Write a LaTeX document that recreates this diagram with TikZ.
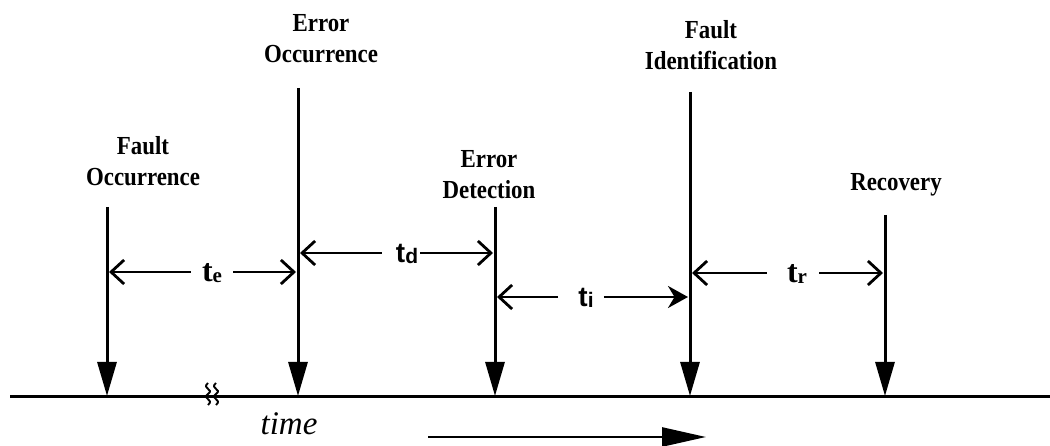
\documentclass[tikz,border=0pt]{standalone}
\usepackage{fontspec}
\setmainfont{Liberation Serif}
\newfontfamily\condserif[FakeStretch=0.88]{Liberation Serif}
\newfontfamily\lsans{Liberation Sans}
\usetikzlibrary{arrows.meta}
\tikzset{
  evline/.style={line width=3pt, -{Triangle[length=34pt,width=19pt]}},
  dimarrow/.style={line width=2.8pt, -{Straight Barb[length=13pt,width=24pt]}},
  lbl/.style={font=\condserif\fontsize{26}{31}\selectfont\bfseries, align=center, inner sep=0pt},
  tlbl/.style={font=\fontsize{32}{34}\selectfont\bfseries, inner sep=0pt},
  tslbl/.style={font=\lsans\fontsize{28}{34}\selectfont\bfseries, inner sep=0pt},
}
\newcommand{\subt}[1]{\raisebox{-1pt}{\fontsize{21}{22}\selectfont #1}}
\begin{document}
\begin{tikzpicture}[x=1pt,y=-1pt]
\useasboundingbox (0,0) rectangle (1050,446);
% axis
\coordinate (axL) at (10,396);
\coordinate (axR) at (1050,396);
\draw[line width=3pt] (axL) -- (axR);
% break mark
\coordinate (b1) at (208,383);
\coordinate (b2) at (216,383);
\draw[line width=1.9pt] (b1) .. controls +(-7,6) and +(7,-5) .. +(0,11) .. controls +(-7,5) and +(7,-6) .. +(0,22);
\draw[line width=1.9pt] (b2) .. controls +(-7,6) and +(7,-5) .. +(0,11) .. controls +(-7,5) and +(7,-6) .. +(0,22);
% event lines
\coordinate (fo) at (107,207); \coordinate (foB) at (107,396);
\coordinate (eo) at (298,88);  \coordinate (eoB) at (298,396);
\coordinate (ed) at (495,207); \coordinate (edB) at (495,396);
\coordinate (fi) at (690,92);  \coordinate (fiB) at (690,396);
\coordinate (re) at (885,215); \coordinate (reB) at (885,396);
\draw[evline] (fo) -- (foB);
\draw[evline] (eo) -- (eoB);
\draw[evline] (ed) -- (edB);
\draw[evline] (fi) -- (fiB);
\draw[evline] (re) -- (reB);
% event labels
\node[lbl] (lfo) at (143,161) {Fault\\Occurrence};
\node[lbl] (leo) at (321,39) {Error\\Occurrence};
\node[lbl] (led) at (489,175) {Error\\Detection};
\node[lbl] (lfi) at (711,45) {Fault\\Identification};
\node[lbl] (lre) at (896,185) {Recovery};
% interval labels
\node[tlbl] (te) at (212,273) {t\subt{e}};
\node[tslbl] (td) at (407,254) {t\subt{d}};
\node[tslbl] (ti) at (586,298) {t\subt{i}};
\node[tlbl] (tr) at (797,274) {t\subt{r}};
\coordinate (teL) at (109,272); \coordinate (teR) at (296,272);
\coordinate (tdL) at (300,253); \coordinate (tdR) at (493,253);
\coordinate (tiL) at (497,297); \coordinate (tiR) at (688,297);
\coordinate (trL) at (692,273); \coordinate (trR) at (883,273);
\draw[dimarrow] ([xshift=-11pt]te.west |- teL) -- (teL);
\draw[dimarrow] ([xshift=11pt]te.east |- teR) -- (teR);
\draw[dimarrow] ([xshift=-14pt]td.west |- tdL) -- (tdL);
\draw[dimarrow] ([xshift=2pt]td.east |- tdR) -- (tdR);
\draw[dimarrow] ([xshift=-20pt]ti.west |- tiL) -- (tiL);
\draw[line width=2.8pt, -{Stealth[length=20pt,width=22pt]}] ([xshift=10pt]ti.east |- tiR) -- (tiR);
\draw[dimarrow] ([xshift=-20pt]tr.west |- trL) -- (trL);
\draw[dimarrow] ([xshift=12pt]tr.east |- trR) -- (trR);
% time
\node[font=\fontsize{33}{36}\selectfont\itshape, inner sep=0pt] (time) at (289,424) {time};
\coordinate (tA) at (428,437);
\coordinate (tB) at (706,437);
\draw[line width=2.6pt, -{Triangle[length=44pt,width=19pt]}] (tA) -- (tB);
\end{tikzpicture}
\end{document}
